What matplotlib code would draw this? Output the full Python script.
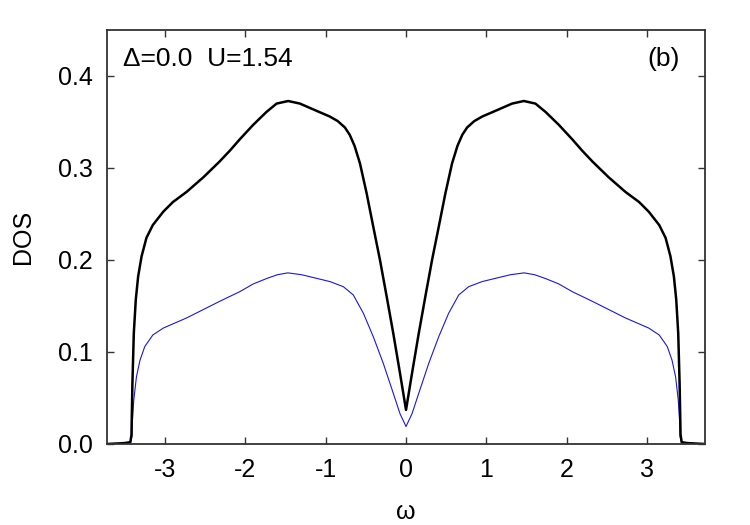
import numpy as np
import matplotlib.pyplot as plt

plt.rcParams['font.family'] = ['Liberation Sans', 'DejaVu Sans']

# omega grid and DOS values (left and right halves)
omega_black = [-3.72, -3.50, -3.43, -3.416, -3.404, -3.387, -3.362, -3.333, -3.29, -3.23,
               -3.15, -3.02, -2.90, -2.73, -2.52, -2.32, -2.19, -2.07, -1.90, -1.735,
               -1.61, -1.466, -1.32, -1.11, -0.95, -0.85, -0.76, -0.70, -0.64, -0.573,
               -0.49, -0.407, -0.324, -0.24, -0.158, -0.075, 0.0,
               0.075, 0.158, 0.24, 0.324, 0.407, 0.49, 0.573, 0.64, 0.70, 0.76,
               0.85, 0.95, 1.11, 1.32, 1.466, 1.61, 1.735, 1.90, 2.07, 2.19,
               2.32, 2.52, 2.73, 2.90, 3.02, 3.15, 3.23, 3.29, 3.333, 3.362,
               3.387, 3.404, 3.416, 3.43, 3.50, 3.72]
dos_black = [0.0, 0.001, 0.002, 0.010, 0.066, 0.120, 0.157, 0.182, 0.204, 0.224,
             0.238, 0.2525, 0.263, 0.274, 0.290, 0.307, 0.319, 0.331, 0.347, 0.361,
             0.370, 0.3728, 0.370, 0.362, 0.356, 0.351, 0.344, 0.336, 0.324, 0.305,
             0.2725, 0.236, 0.200, 0.160, 0.120, 0.077, 0.037,
             0.077, 0.120, 0.160, 0.200, 0.236, 0.2725, 0.305, 0.324, 0.336, 0.344,
             0.351, 0.356, 0.362, 0.370, 0.3728, 0.370, 0.361, 0.347, 0.331, 0.319,
             0.307, 0.290, 0.274, 0.263, 0.2525, 0.238, 0.224, 0.204, 0.182, 0.157,
             0.120, 0.066, 0.010, 0.002, 0.001, 0.0]

omega_blue = [-3.72, -3.43, -3.41, -3.404, -3.387, -3.354, -3.31, -3.25, -3.15, -3.02,
              -2.73, -2.32, -2.07, -1.90, -1.73, -1.60, -1.47, -1.30, -1.11, -0.946,
              -0.78, -0.656, -0.53, -0.407, -0.283, -0.158, -0.075, 0.0,
              0.075, 0.158, 0.283, 0.407, 0.53, 0.656, 0.78, 0.946, 1.11, 1.30,
              1.47, 1.60, 1.73, 1.90, 2.07, 2.32, 2.73, 3.02, 3.15, 3.25,
              3.31, 3.354, 3.387, 3.404, 3.41, 3.43, 3.72]
dos_blue = [0.0, 0.001, 0.008, 0.025, 0.048, 0.073, 0.091, 0.106, 0.1185, 0.126,
            0.137, 0.155, 0.1655, 0.174, 0.180, 0.184, 0.186, 0.184, 0.180, 0.1765,
            0.171, 0.162, 0.142, 0.1166, 0.0877, 0.055, 0.033, 0.019,
            0.033, 0.055, 0.0877, 0.1166, 0.142, 0.162, 0.171, 0.1765, 0.180, 0.184,
            0.186, 0.184, 0.180, 0.174, 0.1655, 0.155, 0.137, 0.126, 0.1185, 0.106,
            0.091, 0.073, 0.048, 0.025, 0.008, 0.001, 0.0]

xticks = [-3, -2, -1, 0, 1, 2, 3]
yticks = [0.0, 0.1, 0.2, 0.3, 0.4]

fig = plt.figure(figsize=(7.5, 5.25), dpi=100)
ax = fig.add_axes([0.1427, 0.1543, 0.7973, 0.7886])

ax.plot(omega_blue, dos_blue, color='#1a1acc', linewidth=0.8,
        solid_joinstyle='round')
ax.plot(omega_black, dos_black, color='black', linewidth=1.8,
        solid_joinstyle='round')

ax.set_xlim(-3.72, 3.72)
ax.set_ylim(0, 0.45)
ax.set_xticks(xticks)
ax.set_xticklabels([str(t) for t in xticks])
ax.set_yticks(yticks)
ax.set_yticklabels(['%.1f' % t for t in yticks])

ax.tick_params(direction='in', length=5, width=1, top=True, right=True,
               labelsize=18, color='#333333')
ax.tick_params(axis='x', pad=10)
ax.tick_params(axis='y', pad=10)
for s in ax.spines.values():
    s.set_linewidth(1.3)
    s.set_color('#333333')

ax.set_xlabel('ω', fontsize=18, labelpad=13)
ax.set_ylabel('DOS', fontsize=18, labelpad=17)

ax.text(0.027, 0.96, 'Δ=0.0  U=1.54', transform=ax.transAxes, fontsize=19,
        ha='left', va='top')
ax.text(0.958, 0.96, '(b)', transform=ax.transAxes, fontsize=19,
        ha='right', va='top')

fig.savefig('out.png', dpi=100)
